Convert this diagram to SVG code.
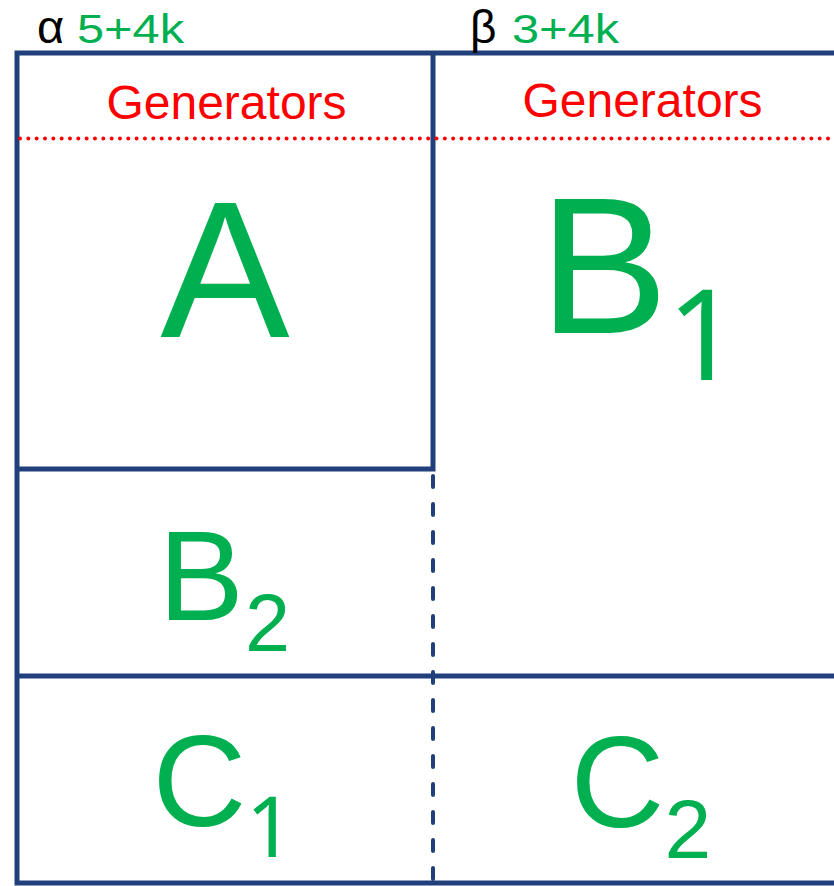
<svg xmlns="http://www.w3.org/2000/svg" width="834" height="886" viewBox="0 0 834 886">
  <style>
    .frame { fill: none; stroke: #213F7A; stroke-width: 5; }
    .dash { fill: none; stroke: #213F7A; stroke-width: 4; stroke-dasharray: 11 17; stroke-linecap: round; }
    .dots { fill: none; stroke: #FF0000; stroke-width: 4; stroke-dasharray: 0 8.33; stroke-linecap: round; }
    .t { font-family: "Liberation Sans", Arial, sans-serif; }
    .one { font-family: "Noto Sans", "Liberation Sans", sans-serif; }
    .g { fill: #00B050; }
    .red { fill: #FF0000; }
    .blk { fill: #000000; }
  </style>
  <rect width="834" height="886" fill="#FFFFFF"/>

  <g id="connectors">
    <path class="frame" d="M834 53 H17 V883 H834"/>
    <path class="frame" d="M17 469 H433 V53"/>
    <path class="frame" d="M17 676 H834"/>
    <path class="dash" d="M433 476 V883"/>
    <path class="dots" d="M20 138.5 H834"/>
  </g>

  <g id="header-alpha">
    <text class="t blk" x="37" y="43" font-size="47">α</text>
    <text class="t g" x="77" y="43" font-size="40" textLength="107" lengthAdjust="spacingAndGlyphs">5+4k</text>
  </g>
  <g id="header-beta">
    <text class="t blk" x="470" y="43" font-size="46">β</text>
    <text class="t g" x="512" y="43" font-size="40" textLength="107" lengthAdjust="spacingAndGlyphs">3+4k</text>
  </g>

  <g id="node-A">
    <text class="t red" x="226.5" y="119" font-size="48" text-anchor="middle">Generators</text>
    <text class="t g" x="225" y="337" font-size="194" text-anchor="middle">A</text>
  </g>

  <g id="node-B1">
    <text class="t red" x="642.5" y="117" font-size="48" text-anchor="middle">Generators</text>
    <text class="t g" x="539" y="333" font-size="194">B</text>
    <text class="one g" x="667" y="380" font-size="127">1</text>
  </g>

  <g id="node-B2">
    <text class="t g" x="158.5" y="620" font-size="128">B</text>
    <text class="t g" x="245" y="651" font-size="81">2</text>
  </g>

  <g id="node-C1">
    <text class="t g" x="152.5" y="826" font-size="130">C</text>
    <text class="one g" x="246" y="857" font-size="84">1</text>
  </g>

  <g id="node-C2">
    <text class="t g" x="570.5" y="827" font-size="130">C</text>
    <text class="t g" x="664.5" y="858" font-size="84">2</text>
  </g>
</svg>
